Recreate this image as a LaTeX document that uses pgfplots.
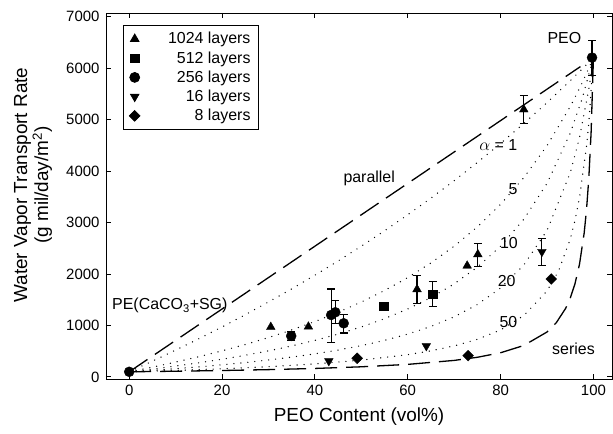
\documentclass[border=0pt]{standalone}
\usepackage{fontspec}
\setmainfont{Liberation Sans}
\usepackage{pgfplots}
\pgfplotsset{compat=1.18}
\begin{document}
\begin{tikzpicture}
\begin{axis}[
 name=ax, scale only axis, width=506bp, height=366bp,
 xmin=-5, xmax=104, ymin=-40, ymax=7070,
 xtick={0,20,...,100}, ytick={0,1000,...,7000},
 tick align=inside, major tick length=5bp,
 axis line style={line width=0.9bp},
 every tick/.style={black, line width=0.9bp},
 /pgf/number format/assume math mode=true,
 /pgf/number format/1000 sep={},
 ticklabel style={font=\fontsize{15}{18}\selectfont},
 xticklabel style={yshift=-3bp},
 yticklabel style={xshift=-3bp},
 xlabel={PEO Content (vol\%)},
 ylabel={Water Vapor Transport Rate\\(g mil/day/m\textsuperscript{2})},
 label style={font=\fontsize{19}{21}\selectfont},
 xlabel style={at={(axis description cs:0.5,0)}, anchor=center, yshift=-38bp},
 ylabel style={at={(axis description cs:-0.144,0.53)}, anchor=center, align=center},
 legend style={at={(axis description cs:0.0336,0.967)}, anchor=north west,
   font=\fontsize{16}{18}\selectfont, draw=black, line width=0.7bp,
   row sep=2.2bp, column sep=26bp, inner xsep=6bp, inner ysep=5bp},
 legend cell align=right,
 dotcurve/.style={black, line width=1.4bp, line cap=round, dash pattern=on 0pt off 7bp},
 dashcurve/.style={black, line width=1.3bp, dash pattern=on 22bp off 9bp},
 ebar/.style={error bars/.cd, y dir=both, y explicit,
   error bar style={solid, black, line width=1.1bp},
   error mark options={rotate=90, black, mark size=4bp, line width=1.1bp}},
]
% parallel
\addplot[dashcurve, forget plot] coordinates {(0,100) (97.2,6029)};
% series
\addplot[dashcurve, forget plot] coordinates {
(0,100) (10,111) (20,125) (30,142) (40,165) (50,197) (60,244) (70,321) (75,382)
(80,470) (85,611) (90,873) (92,1054) (94,1330) (95,1531) (96,1802) (97,2191)
(98,2793) (98.5,3238) (99,3851) (99.5,4751) (100,6200)};
% alpha = 1
\addplot[dotcurve, forget plot] coordinates {
(0,100) (5,307) (10,521) (15,742) (20,971) (25,1209) (30,1456) (35,1711) (40,1977)
(45,2253) (50,2540) (55,2839) (60,3150) (65,3474) (70,3813) (75,4167) (80,4536)
(85,4923) (90,5329) (95,5754) (100,6200)};
% alpha = 5
\addplot[dotcurve, forget plot] coordinates {
(0,100) (5,190) (10,288) (15,393) (20,507) (25,630) (30,765) (35,913) (40,1076)
(45,1256) (50,1456) (55,1679) (60,1930) (65,2215) (70,2540) (75,2915) (80,3353)
(85,3871) (90,4492) (95,5251) (97.5,5698) (100,6200)};
% alpha = 10
\addplot[dotcurve, forget plot] coordinates {
(0,100) (5,153) (10,211) (15,274) (20,344) (25,421) (30,507) (35,602) (40,710)
(45,832) (50,971) (55,1132) (60,1320) (65,1542) (70,1808) (75,2133) (80,2540)
(85,3063) (90,3760) (95,4736) (97.5,5387) (100,6200)};
% alpha = 20
\addplot[dotcurve, forget plot] coordinates {
(0,100) (5,129) (10,161) (15,196) (20,236) (25,279) (30,329) (35,385) (40,449)
(45,522) (50,608) (55,710) (60,832) (65,981) (70,1168) (75,1407) (80,1727)
(85,2174) (90,2845) (95,3963) (97,4652) (99,5590) (100,6200)};
% alpha = 50
\addplot[dotcurve, forget plot] coordinates {
(0,100) (10,126) (20,158) (30,199) (40,253) (50,326) (60,433) (65,507) (70,602)
(75,731) (80,913) (85,1192) (90,1669) (92.5,2063) (95,2676) (96,3028) (97,3481)
(98.5,4470) (99,4931) (100,6200)};

% 1024 layers
\addplot[only marks, mark=triangle*, mark size=5bp, black] coordinates {
(30.5,970) (38.6,976) (72.8,2160)};
\addlegendentry{1024 layers}
\addplot[only marks, mark=triangle*, mark size=5bp, black, forget plot, ebar] coordinates {
(62,1702) +- (0,270)
(75.1,2381) += (0,213) -= (0,241)
(85,5195) +- (0,275)};
% 512 layers
\addplot[only marks, mark=square*, mark size=4.2bp, black] coordinates {(54.8,1378)};
\addlegendentry{512 layers}
\addplot[only marks, mark=square*, mark size=4.2bp, black, forget plot, ebar] coordinates {
(65.4,1605) +- (0,243)};
% 256 layers
\addplot[only marks, mark=*, mark size=5bp, black] coordinates {(0,100)};
\addlegendentry{256 layers}
\addplot[only marks, mark=*, mark size=5bp, black, forget plot, ebar] coordinates {
(34.9,796) +- (0,90)
(43.5,1203) += (0,505) -= (0,530)
(44.4,1256) +- (0,225)
(46.2,1042) += (0,175) -= (0,188)
(99.7,6204) +- (0,340)};
% 16 layers
\addplot[only marks, mark=triangle*, mark size=5bp, mark options={rotate=180}, black] coordinates {
(43.0,310) (64.0,602)};
\addlegendentry{16 layers}
\addplot[only marks, mark=triangle*, mark size=5bp, mark options={rotate=180}, black, forget plot, ebar] coordinates {
(88.9,2432) +- (0,260)};
% 8 layers
\addplot[only marks, mark=square*, mark size=3.8bp, mark options={rotate=45}, black] coordinates {
(49.1,363) (73.0,413) (90.9,1902)};
\addlegendentry{8 layers}

\begin{scope}[every node/.style={font=\fontsize{16}{18}\selectfont, inner sep=0pt}]
\node[anchor=east] at (axis cs:97.4,6580) {PEO};
\node[anchor=west] at (axis cs:75.4,4500) {$\alpha$ = 1};
\node at (axis cs:82.7,3650) {5};
\node at (axis cs:81.8,2610) {10};
\node at (axis cs:81.3,1863) {20};
\node at (axis cs:81.7,1058) {50};
\node at (axis cs:95.7,553) {series};
\node at (axis cs:51.7,3852) {parallel};
\node[anchor=west] at (axis cs:-3.7,1390) {PE(CaCO\textsubscript{3}+SG)};
\end{scope}
\end{axis}
\pgfresetboundingbox
\path ([shift={(-106bp,-55bp)}]ax.south west) rectangle ([shift={(1bp,13bp)}]ax.north east);
\end{tikzpicture}
\end{document}
